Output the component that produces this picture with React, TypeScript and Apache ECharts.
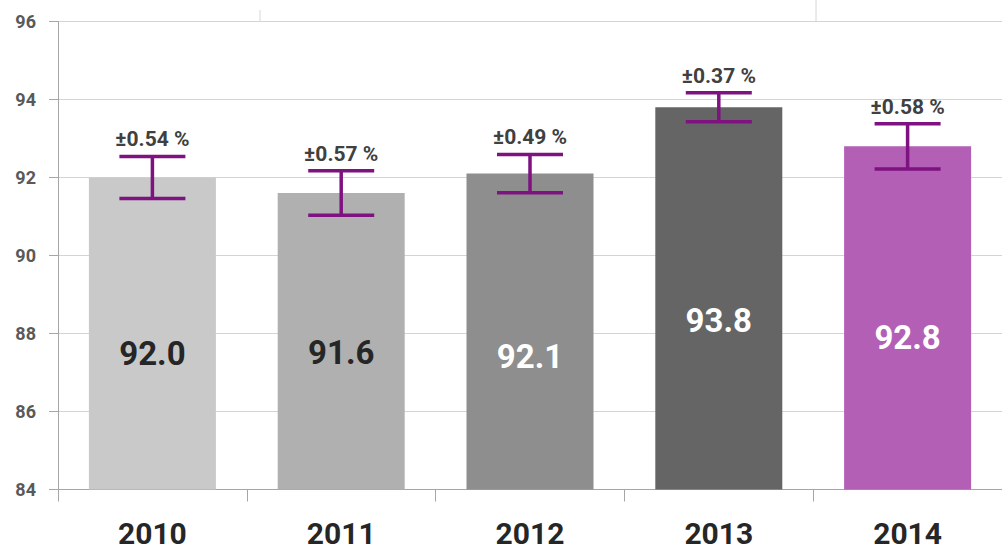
import React, { useEffect, useRef } from "react";
import * as echarts from "echarts";

const years = ["2010", "2011", "2012", "2013", "2014"];
const values = [92.0, 91.6, 92.1, 93.8, 92.8];
const errors = [0.54, 0.57, 0.49, 0.37, 0.58];
const yMin = 84;
const yMax = 96;
const yStep = 2;

// styling (not data)
const barColors = ["#c9c9c9", "#b0b0b0", "#8e8e8e", "#656565", "#b35fb6"];
const labelColors = ["#262626", "#262626", "#ffffff", "#ffffff", "#ffffff"];
const labelShift = [20, 11, 25, 22, 20];

export default function App() {
  const ref = useRef<HTMLDivElement>(null);
  useEffect(() => {
    if (!ref.current) return;
    const chart = echarts.init(ref.current, null, { renderer: "svg" });
    const font = "Roboto";
    chart.setOption({
      animation: false,
      backgroundColor: "#ffffff",
      grid: { left: 58, top: 21.5, width: 953, height: 468 },
      graphic: [
        { type: "line", shape: { x1: 260, y1: 10, x2: 260, y2: 21 }, style: { stroke: "#d6d6d6", lineWidth: 1 } },
        { type: "line", shape: { x1: 816, y1: 0, x2: 816, y2: 21 }, style: { stroke: "#d6d6d6", lineWidth: 1 } },
      ],
      xAxis: {
        type: "category",
        data: years,
        boundaryGap: true,
        axisLine: { show: true, lineStyle: { color: "#a6a6a6", width: 1 } },
        axisTick: { show: true, length: 12, lineStyle: { color: "#a6a6a6" } },
        axisLabel: {
          margin: 29,
          fontFamily: font,
          fontWeight: "bold",
          fontSize: 30,
          lineHeight: 30,
          color: "#262626",
        },
      },
      yAxis: {
        type: "value",
        min: yMin,
        max: yMax,
        interval: yStep,
        axisLine: { show: true, lineStyle: { color: "#a6a6a6", width: 1 } },
        axisTick: { show: true, length: 9, lineStyle: { color: "#a6a6a6" } },
        splitLine: { show: true, lineStyle: { color: "#d4d4d4", width: 1 } },
        axisLabel: {
          margin: 22,
          fontFamily: font,
          fontWeight: "bold",
          fontSize: 18,
          color: "#595959",
        },
      },
      series: [
        {
          type: "bar",
          barWidth: 127,
          data: values.map((v, i) => ({
            value: v,
            itemStyle: { color: barColors[i] },
            label: {
              show: true,
              position: "inside",
              offset: [0, labelShift[i]],
              formatter: () => v.toFixed(1),
              fontFamily: font,
              fontWeight: "bold",
              fontSize: 33,
              color: labelColors[i],
            },
          })),
        },
        {
          type: "custom",
          z: 5,
          data: years.map((_, i) => [i, values[i], errors[i]]),
          encode: { x: 0, y: 1 },
          renderItem: (params: any, api: any) => {
            const idx = api.value(0);
            const v = api.value(1);
            const e = api.value(2);
            const top = api.coord([idx, v + e]);
            const bot = api.coord([idx, v - e]);
            const x = top[0];
            const hw = 33;
            const style = { stroke: "#7d1280", lineWidth: 3.5 };
            return {
              type: "group",
              children: [
                { type: "line", shape: { x1: x, y1: top[1], x2: x, y2: bot[1] }, style },
                { type: "line", shape: { x1: x - hw, y1: top[1], x2: x + hw, y2: top[1] }, style },
                { type: "line", shape: { x1: x - hw, y1: bot[1], x2: x + hw, y2: bot[1] }, style },
                {
                  type: "text",
                  x: x,
                  y: top[1] - 17,
                  style: {
                    text: "\u00b1" + e.toFixed(2) + " %",
                    fill: "#404040",
                    fontFamily: font,
                    fontWeight: "bold",
                    fontSize: 21,
                    align: "center",
                    verticalAlign: "middle",
                  },
                },
              ],
            };
          },
        },
      ],
    });
    return () => chart.dispose();
  }, []);
  return (
    <div
      ref={ref}
      style={{ position: "fixed", left: 0, top: 0, width: 1002, height: 550 }}
    />
  );
}
